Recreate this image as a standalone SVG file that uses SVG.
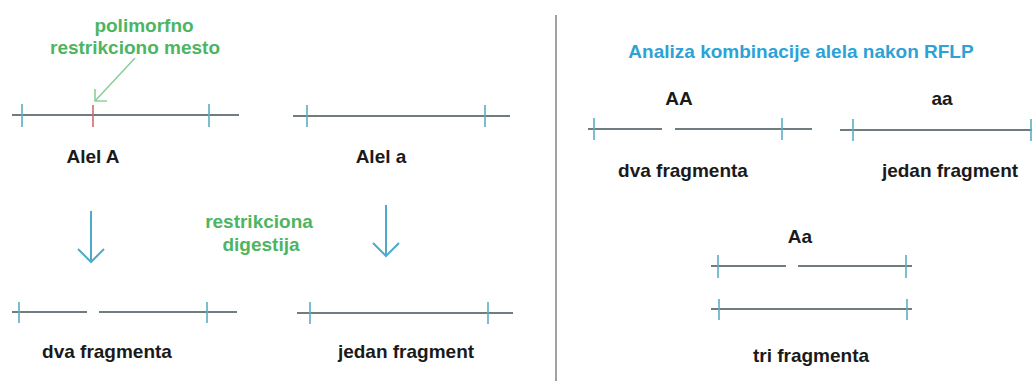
<svg xmlns="http://www.w3.org/2000/svg" width="1032" height="381" viewBox="0 0 1032 381">
<style>
  .t { font-family: "Liberation Sans", Arial, sans-serif; font-weight: bold; font-size: 19px; text-anchor: middle; fill: #1a1a1a; }
  .g { fill: #4db562; }
  .b { fill: #2ca2d6; }
  .ln { stroke: #6f7c80; stroke-width: 1.8; fill: none; }
  .tk { stroke: #5aaec4; stroke-width: 1.6; fill: none; }
  .rt { stroke: #d46a6a; stroke-width: 1.6; fill: none; }
  .ar { stroke: #4cabc9; stroke-width: 2; fill: none; }
  .ga { stroke: #8dcf9c; stroke-width: 1.6; fill: none; }
</style>
<rect width="1032" height="381" fill="#ffffff"/>

<g id="divider"><line x1="556" y1="15" x2="556" y2="381" stroke="#8a8a8a" stroke-width="1.6"/></g>

<g id="alel-A">
  <line class="ln" x1="12" y1="115" x2="239" y2="115"/>
  <line class="tk" x1="22" y1="104" x2="22" y2="127"/>
  <line class="rt" x1="93" y1="105" x2="93" y2="127"/>
  <line class="tk" x1="209" y1="104" x2="209" y2="127"/>
  <text class="t" x="93" y="163">Alel A</text>
</g>

<g id="alel-a">
  <line class="ln" x1="293" y1="116" x2="510" y2="116"/>
  <line class="tk" x1="307" y1="105" x2="307" y2="127"/>
  <line class="tk" x1="485" y1="105" x2="485" y2="127"/>
  <text class="t" x="381" y="163">Alel a</text>
</g>

<g id="site-label">
  <text class="t g" x="144" y="32">polimorfno</text>
  <text class="t g" x="135" y="54">restrikciono mesto</text>
</g>

<g id="digest-label">
  <text class="t g" x="259" y="228">restrikciona</text>
  <text class="t g" x="261" y="251">digestija</text>
</g>

<g id="digest-A">
  <line class="ln" x1="12" y1="312" x2="87" y2="312"/>
  <line class="ln" x1="99" y1="312" x2="237" y2="312"/>
  <line class="tk" x1="19" y1="302" x2="19" y2="323"/>
  <line class="tk" x1="207" y1="302" x2="207" y2="323"/>
  <text class="t" x="107" y="358">dva fragmenta</text>
</g>

<g id="digest-a">
  <line class="ln" x1="297" y1="313" x2="513" y2="313"/>
  <line class="tk" x1="310" y1="302" x2="310" y2="324"/>
  <line class="tk" x1="488" y1="302" x2="488" y2="324"/>
  <text class="t" x="406" y="358">jedan fragment</text>
</g>

<g id="title">
  <text class="t b" x="801" y="58">Analiza kombinacije alela nakon RFLP</text>
</g>

<g id="AA">
  <text class="t" x="679" y="105">AA</text>
  <line class="ln" x1="588" y1="129" x2="662" y2="129"/>
  <line class="ln" x1="675" y1="129" x2="812" y2="129"/>
  <line class="tk" x1="594" y1="118" x2="594" y2="140"/>
  <line class="tk" x1="782" y1="118" x2="782" y2="140"/>
  <text class="t" x="683" y="177">dva fragmenta</text>
</g>

<g id="aa">
  <text class="t" x="942" y="105">aa</text>
  <line class="ln" x1="840" y1="130" x2="1032" y2="130"/>
  <line class="tk" x1="853" y1="119" x2="853" y2="141"/>
  <line class="tk" x1="1031" y1="119" x2="1031" y2="141"/>
  <text class="t" x="950" y="177">jedan fragment</text>
</g>

<g id="Aa">
  <text class="t" x="800" y="243">Aa</text>
  <line class="ln" x1="711" y1="266" x2="786" y2="266"/>
  <line class="ln" x1="798" y1="266" x2="912" y2="266"/>
  <line class="tk" x1="718" y1="255" x2="718" y2="278"/>
  <line class="tk" x1="906" y1="255" x2="906" y2="278"/>
  <line class="ln" x1="711" y1="309" x2="912" y2="309"/>
  <line class="tk" x1="719" y1="299" x2="719" y2="320"/>
  <line class="tk" x1="907" y1="299" x2="907" y2="320"/>
  <text class="t" x="811" y="362">tri fragmenta</text>
</g>

<g id="connectors">
  <path class="ga" d="M135 58 L95 101 M95 89 L95 101 L107 101"/>
  <path class="ar" d="M91 211 L91 262 M78 249 L91 262 L104 249"/>
  <path class="ar" d="M386 205 L386 256 M373 243 L386 256 L399 243"/>
</g>
</svg>
